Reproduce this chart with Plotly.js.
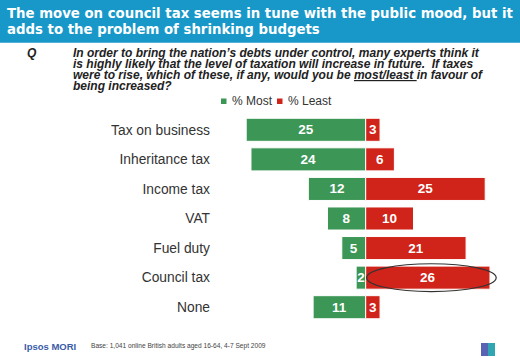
<!DOCTYPE html>
<html>
<head>
<meta charset="utf-8">
<script src="https://cdn.plot.ly/plotly-3.0.1.min.js"></script>
<style>
html,body{margin:0;padding:0;background:#fff;}
#chart{width:520px;height:358px;}
</style>
</head>
<body>
<div id="chart"></div>
<script>
// ---- data ----
const categories = ["Tax on business", "Inheritance tax", "Income tax", "VAT", "Fuel duty", "Council tax", "None"];
const mostValues = [25, 24, 12, 8, 5, 2, 11];
const leastValues = [3, 6, 25, 10, 21, 26, 3];
const seriesNames = ["% Most", "% Least"];
const highlighted = "Council tax";

// ---- layout helpers ----
const W = 520, H = 358;
const M = {l: 213, r: 10, t: 115, b: 36};
const pw = W - M.l - M.r, ph = H - M.t - M.b;
const pxX = px => (px - M.l) / pw;
const pxY = py => (H - M.b - py) / ph;
const FONT = "Liberation Sans, Arial, sans-serif";
const HEAVY = "DejaVu Sans, Verdana, sans-serif";
const GREEN = "#3c9656", RED = "#d0231a";
const COLORS = [GREEN, RED];

const traces = [mostValues.map(v => -v), leastValues].map((xs, i) => ({
  type: "bar", orientation: "h", name: seriesNames[i],
  y: categories, x: xs,
  text: (i === 0 ? mostValues : leastValues).map(String), texttemplate: "%{text}",
  textposition: "inside", insidetextanchor: "middle",
  textfont: {family: FONT, size: 13.5, color: "#fff", weight: "bold"},
  marker: {color: COLORS[i], line: {color: "#fff", width: 1}},
  hoverinfo: "none", showlegend: false
}));

const hi = categories.indexOf(highlighted);
const qLines = [
  "In order to bring the nation\u2019s debts under control, many experts think it",
  "is highly likely that the level of taxation will increase in future.  If taxes",
  "were to rise, which of these, if any, would you be <u>most/least </u>in favour of",
  "being increased?"
];
const qY = [53, 64, 75, 86];

const ann = (text, x, y, font) => ({text, x: pxX(x), y: pxY(y), xref: "paper", yref: "paper",
  xanchor: "left", yanchor: "middle", showarrow: false, borderpad: 0, font});

const annotations = [
  ann("<b>The move on council tax seems in tune with the public mood, but it</b>", 6, 13,
    {family: HEAVY, size: 13.3, color: "#fff"}),
  ann("<b>adds to the problem of shrinking budgets</b>", 6, 29.5,
    {family: HEAVY, size: 13.3, color: "#fff"}),
  ann("<b><i>Q</i></b>", 26, 53, {family: FONT, size: 12, color: "#222"})
];
qLines.forEach((t, i) => annotations.push(ann("<b><i>" + t + "</i></b>", 72, qY[i],
  {family: FONT, size: 12, color: "#222"})));
// legend labels
annotations.push(ann(seriesNames[0], 230.5, 101.5, {family: FONT, size: 12, color: "#333"}));
annotations.push(ann(seriesNames[1], 286.5, 101.5, {family: FONT, size: 12, color: "#333"}));
annotations.push(ann("<b>Ipsos MORI</b>", 23, 346, {family: FONT, size: 9.5, color: "#3b5ca8"}));
annotations.push(ann("Base: 1,041 online British adults aged 16-64, 4-7 Sept 2009", 90, 346,
  {family: FONT, size: 6.6, color: "#444"}));

const shapes = [
  {type: "rect", xref: "paper", yref: "paper", x0: pxX(0), x1: pxX(W), y0: pxY(42.7), y1: pxY(0),
    fillcolor: "#1798c9", line: {width: 0}, layer: "below"},
  {type: "circle", xref: "x", yref: "y", x0: 0.2, x1: leastValues[hi] + 1.3, y0: hi - 0.47, y1: hi + 0.47,
    line: {color: "#333", width: 1.2}, fillcolor: "rgba(0,0,0,0)"},
  // legend swatches
  {type: "rect", xref: "paper", yref: "paper", x0: pxX(221), x1: pxX(226.5), y0: pxY(104), y1: pxY(98.5),
    fillcolor: GREEN, line: {width: 0}},
  {type: "rect", xref: "paper", yref: "paper", x0: pxX(277), x1: pxX(282.5), y0: pxY(104), y1: pxY(98.5),
    fillcolor: RED, line: {width: 0}},
  // logo
  {type: "rect", xref: "paper", yref: "paper", x0: pxX(481), x1: pxX(488), y0: pxY(356), y1: pxY(343),
    fillcolor: "#5a63b3", line: {width: 0}},
  {type: "rect", xref: "paper", yref: "paper", x0: pxX(488), x1: pxX(495), y0: pxY(356), y1: pxY(343),
    fillcolor: "#2fa6b2", line: {width: 0}}
];

const layout = {
  width: W, height: H,
  margin: M,
  paper_bgcolor: "#fff", plot_bgcolor: "#fff",
  barmode: "relative", bargap: 0.22,
  showlegend: false,
  xaxis: {visible: false, range: [-(365.7 - M.l) / 4.78, (W - M.r - 365.7) / 4.78], fixedrange: true},
  yaxis: {type: "category", categoryorder: "array", categoryarray: categories,
    range: [categories.length - 0.5, -0.5], showgrid: false, zeroline: false, showline: false, ticks: "",
    ticklabelstandoff: 2,
    tickfont: {family: FONT, size: 13.8, color: "#333"}, fixedrange: true},
  uniformtext: {mode: "show", minsize: 13.5},
  annotations: annotations,
  shapes: shapes,
  hovermode: false
};

Plotly.newPlot("chart", traces, layout, {displayModeBar: false, staticPlot: true});
</script>
</body>
</html>
